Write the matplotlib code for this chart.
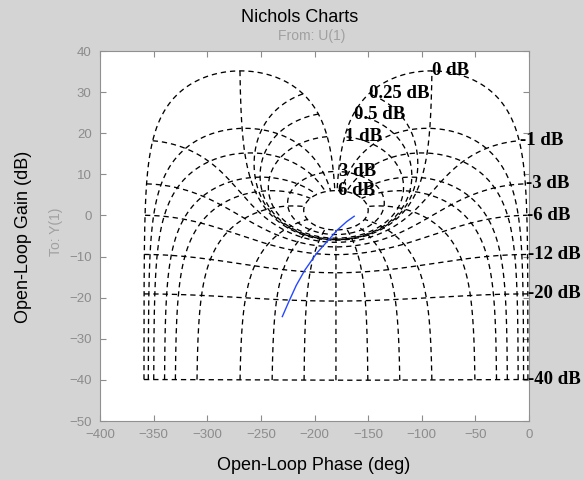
import numpy as np
import matplotlib
matplotlib.use('Agg')
import matplotlib.pyplot as plt

# closed-loop gain (dB) and phase (deg) values of the Nichols grid
cl_gain = [6, 3, 1, 0.5, 0.25, 0, -1, -3, -6, -12, -20, -40]
cl_phase = [-1, -5, -10, -20, -30, -50, -90, -120, -150, -180,
            -210, -240, -270, -310, -330, -340, -350, -355, -359]

# open-loop response
ol_phase = [-230, -224, -217, -209, -198, -187, -179, -170, -163]
ol_gain = [-24.6, -21, -17, -13.3, -9.2, -6.0, -3.6, -1.5, -0.2]

x_ticks = list(range(-400, 1, 50))
y_ticks = list(range(-50, 41, 10))

BG = '#d4d4d4'
GREY = '#8c8c8c'


# closed loop T = M*exp(j*phi)  ->  open loop G = T/(1-T), in dB and deg
def open_loop(m_db, phi_deg):
    z = 10 ** (np.asarray(m_db) / 20.0) * np.exp(1j * np.radians(phi_deg))
    h = z / (1 - z)
    gdb = 20 * np.log10(np.abs(h))
    ph = np.remainder(np.degrees(np.angle(h)) + 360, 360) - 360
    return ph, gdb


fig = plt.figure(figsize=(5.84, 4.8), dpi=100, facecolor=BG)
ax = fig.add_axes([100 / 584, 1 - 421 / 480, 429 / 584, 370 / 480])

ls = (0, (4, 3))
lw = 0.95
# sampling of the grid curves
m_fine = np.linspace(min(cl_gain), max(cl_gain), 4601)
phi_fine = np.linspace(min(cl_phase), max(cl_phase), 7161)

# constant closed-loop phase lines
for phi in cl_phase:
    ph, gdb = open_loop(m_fine, phi)
    ax.plot(ph, gdb, color='k', lw=lw, linestyle=ls)

# constant closed-loop gain lines + labels at the phi=-1 end
for m in cl_gain:
    ph, gdb = open_loop(m, phi_fine)
    ax.plot(ph, gdb, color='k', lw=lw, linestyle=ls)
    p0, g0 = open_loop(m, max(cl_phase))
    ax.text(p0 + 0.5, g0, '%g dB' % m, ha='left', va='center',
            family='Liberation Serif', weight='bold', fontsize=13.5, clip_on=False)

ax.plot(ol_phase, ol_gain, color='#2448ff', lw=1.0)

ax.set_xlim(-400, 0)
ax.set_ylim(-50, 40)
ax.set_xticks(x_ticks)
ax.set_yticks(y_ticks)
ax.tick_params(direction='in', top=True, right=True, length=4, color=GREY,
               labelcolor=GREY, labelsize=9.5, pad=6)
for lab in ax.get_xticklabels() + ax.get_yticklabels():
    lab.set_family('Liberation Sans')
for s in ax.spines.values():
    s.set_color('#909090')

fig.text(300 / 584, 1 - 17 / 480, 'Nichols Charts', ha='center', va='center',
         family='Liberation Sans', fontsize=13)
fig.text(312 / 584, 1 - 36 / 480, 'From: U(1)', ha='center', va='center',
         family='Liberation Sans', fontsize=10, color='#a0a0a0')
fig.text(314 / 584, 1 - 465 / 480, 'Open-Loop Phase (deg)', ha='center', va='center',
         family='Liberation Sans', fontsize=13)
fig.text(24 / 584, 1 - 237 / 480, 'Open-Loop Gain (dB)', ha='center', va='center',
         rotation=90, family='Liberation Sans', fontsize=13)
fig.text(56 / 584, 1 - 232 / 480, 'To: Y(1)', ha='center', va='center',
         rotation=90, family='Liberation Sans', fontsize=10, color='#a0a0a0')

fig.savefig('out.png', dpi=100, facecolor=BG)
